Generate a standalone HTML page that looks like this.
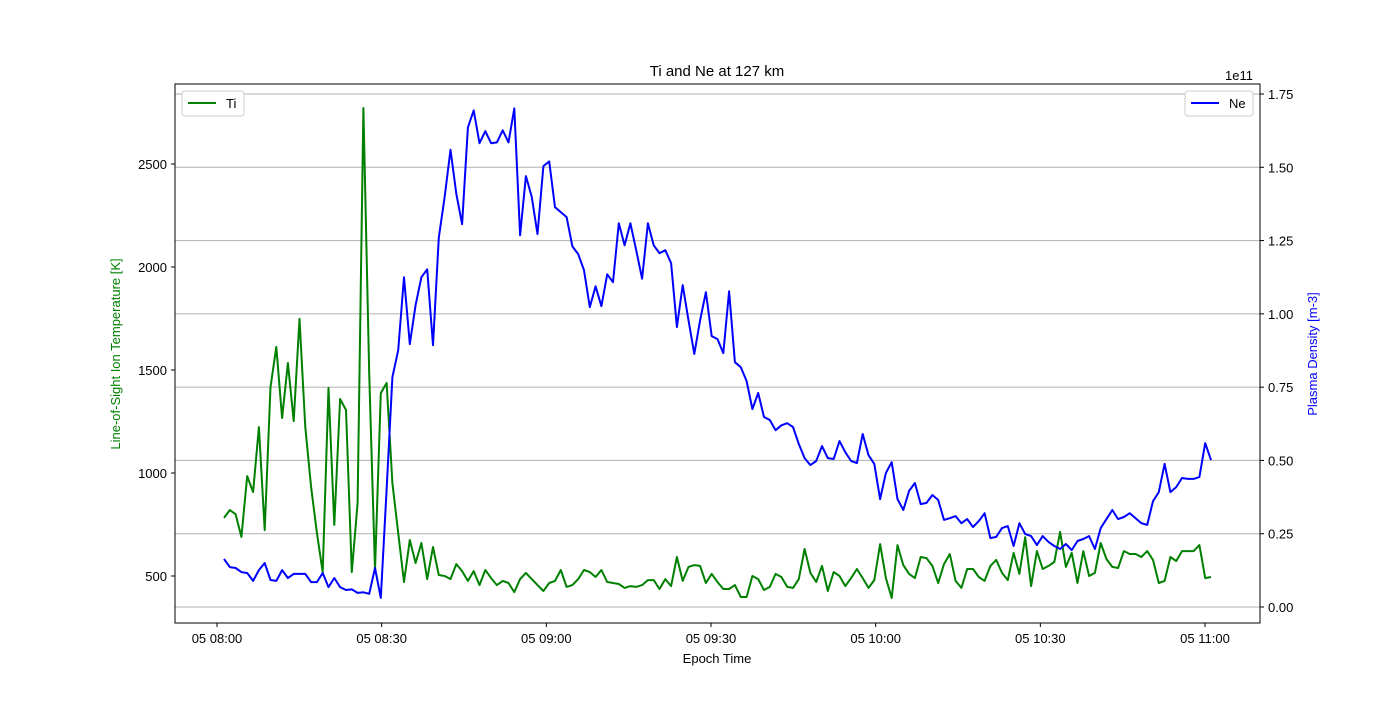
<!DOCTYPE html>
<html><head><meta charset="utf-8"><style>
body{margin:0;background:#fff;}
svg{font-family:"Liberation Sans","DejaVu Sans",sans-serif;}
</style></head><body>
<svg id="chart" width="1400" height="700" xmlns="http://www.w3.org/2000/svg">
<rect width="1400" height="700" fill="#fff"/>
<g id="grid"></g><g id="series"></g><g id="axes"></g>
<text x="717" y="76" text-anchor="middle" font-size="15">Ti and Ne at 127 km</text>
<text x="717" y="663" text-anchor="middle" font-size="13">Epoch Time</text>
<text transform="translate(120,354) rotate(-90)" text-anchor="middle" font-size="13" fill="green">Line-of-Sight Ion Temperature [K]</text>
<text transform="translate(1317,354) rotate(-90)" text-anchor="middle" font-size="13" fill="blue">Plasma Density [m-3]</text>
<text x="1225" y="80" font-size="13">1e11</text>
<g>
<rect x="182" y="91" width="62" height="25" rx="3" fill="#fff" stroke="#ccc"/>
<line x1="188" y1="103" x2="216" y2="103" stroke="green" stroke-width="2"/>
<text x="226" y="108" font-size="13">Ti</text></g>
<g>
<rect x="1185" y="91" width="68" height="25" rx="3" fill="#fff" stroke="#ccc"/>
<line x1="1191" y1="103" x2="1219" y2="103" stroke="blue" stroke-width="2"/>
<text x="1229" y="108" font-size="13">Ne</text></g>
</svg>
<script>
const tiValues=[782,820,800,690,985,908,1223,723,1417,1612,1267,1534,1252,1748,1223,932,709,519,1413,748,1359,1306,519,854,2772,1485,529,1388,1437,951,709,471,675,563,660,485,641,505,500,
485,558,524,476,524,456,529,490,456,476,466,422,485,515,485,456,427,466,476,529,447,456,485,529,519,495,529,471,466,461,442,451,447,456,480,480,437,
485,451,592,476,544,553,549,466,510,471,437,437,456,398,398,500,485,432,447,510,495,447,442,485,631,515,471,549,427,519,500,451,490,534,490,442,480,655,490,393,650,553,510,490,592,587,
549,466,558,607,476,442,534,534,495,476,549,578,515,480,612,510,689,451,621,534,549,568,714,544,612,466,621,500,515,660,582,544,539,621,607,607,592,621,578,466,476,592,573,621,621,621,650,490,495];
const neValues=[0.164,0.136,0.133,0.119,0.116,0.089,0.126,0.150,0.092,0.089,0.126,0.099,0.113,0.113,0.113,0.085,0.085,0.116,0.068,0.099,0.068,0.058,0.06,0.048,0.05,0.045,0.133,0.031,0.4,0.784,0.876,1.125,0.897,1.03,1.125,1.152,0.893,1.26,1.40,
1.56,1.41,1.306,1.636,1.694,1.582,1.623,1.582,1.585,1.626,1.585,1.701,1.268,1.47,1.40,1.272,1.504,1.52,1.364,1.347,1.33,1.23,1.204,1.149,1.023,1.094,1.026,1.135,1.108,1.309,1.234,1.309,1.217,1.12,1.309,1.234,1.207,
1.217,1.173,0.955,1.098,0.978,0.863,0.978,1.074,0.924,0.914,0.866,1.077,0.835,0.818,0.771,0.675,0.73,0.648,0.638,0.603,0.62,0.627,0.614,0.556,0.508,0.484,0.498,0.549,0.508,0.505,0.566,0.528,0.498,0.491,0.59,0.518,0.488,0.368,0.457,0.494,0.368,0.331,0.396,0.423,0.351,0.355,
0.382,0.365,0.297,0.303,0.31,0.286,0.30,0.273,0.293,0.32,0.235,0.239,0.269,0.276,0.208,0.286,0.249,0.242,0.211,0.242,0.222,0.208,0.198,0.215,0.194,0.225,0.232,0.242,0.198,0.269,0.30,0.331,0.30,0.307,0.32,0.303,0.286,0.28,0.361,0.392,0.488,0.392,0.409,0.44,0.437,0.437,0.443,0.559,0.501];
const startMinute=1.28, endMinute=181.1; // minutes after 08:00
const xTickLabels=["05 08:00","05 08:30","05 09:00","05 09:30","05 10:00","05 10:30","05 11:00"];
const xTickMinutes=[0,30,60,90,120,150,180];
const leftTicks=[500,1000,1500,2000,2500];
const rightTicks=[0,0.25,0.5,0.75,1.0,1.25,1.5,1.75];
const rightTickLabels=["0.00","0.25","0.50","0.75","1.00","1.25","1.50","1.75"];

const L=175,R=1260,T=84,B=623;
const X=m=>217+m*(1205-217)/180;
const YL=v=>576-(v-500)*(576-164)/2000;
const YR=v=>607-v*(607-94)/1.75;
const NS='http://www.w3.org/2000/svg';
function mk(tag,attrs,parent,txt){const e=document.createElementNS(NS,tag);for(const k in attrs)e.setAttribute(k,attrs[k]);if(txt!==undefined)e.textContent=txt;parent.appendChild(e);return e;}
const grid=document.getElementById('grid'),axes=document.getElementById('axes'),ser=document.getElementById('series');
rightTicks.forEach((v,i)=>{
 const y=YR(v);
 const g=mk('line',{x1:L,x2:R,y1:y,y2:y,stroke:'#b0b0b0','stroke-width':1},grid);
 
 
 mk('line',{x1:R,x2:R+4,y1:y,y2:y,stroke:'#000'},axes);
 const t=mk('text',{x:R+8,y:y+5,'font-size':13},axes,rightTickLabels[i]);
 
 
});
leftTicks.forEach(v=>{
 const y=YL(v);
 mk('line',{x1:L-4,x2:L,y1:y,y2:y,stroke:'#000'},axes);
 const t=mk('text',{x:L-8,y:y+5,'font-size':13,'text-anchor':'end'},axes,String(v));
 
 
});
xTickMinutes.forEach((m,i)=>{
 const x=X(m);
 mk('line',{x1:x,x2:x,y1:B,y2:B+4,stroke:'#000'},axes);
 const t=mk('text',{x:x,y:B+20,'font-size':13,'text-anchor':'middle'},axes,xTickLabels[i]);
 
 
});
const frame=mk('rect',{x:L,y:T,width:R-L,height:B-T,fill:'none',stroke:'#000','stroke-width':1},axes);


const n=tiValues.length, dt=(endMinute-startMinute)/(n-1);
const tiPts=tiValues.map((v,i)=>X(startMinute+i*dt).toFixed(1)+','+YL(v).toFixed(1)).join(' ');
const nePts=neValues.map((v,i)=>X(startMinute+i*dt).toFixed(1)+','+YR(v).toFixed(1)).join(' ');
const ti=mk('polyline',{points:tiPts,fill:'none',stroke:'green','stroke-width':2,'stroke-linejoin':'round'},ser);


const ne=mk('polyline',{points:nePts,fill:'none',stroke:'blue','stroke-width':2,'stroke-linejoin':'round'},ser);


</script>
</body></html>
